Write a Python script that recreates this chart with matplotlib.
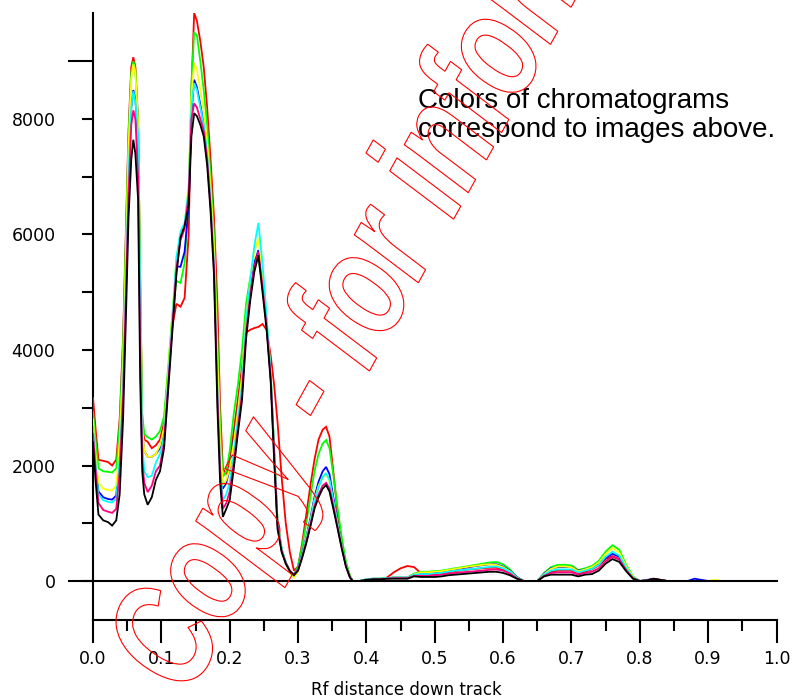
import numpy as np
import matplotlib
matplotlib.use("Agg")
import matplotlib.pyplot as plt
from matplotlib.textpath import TextPath
from matplotlib.patches import PathPatch
from matplotlib.font_manager import FontProperties
from matplotlib.transforms import Affine2D

# ---------------- data ----------------
rf = [0.000, 0.004, 0.008, 0.015, 0.022, 0.028, 0.034, 0.039, 0.044, 0.048,
      0.052, 0.056, 0.059, 0.062, 0.066, 0.069, 0.072, 0.075, 0.080, 0.086,
      0.092, 0.098, 0.104, 0.110, 0.116, 0.122, 0.128, 0.134, 0.140, 0.144,
      0.148, 0.152, 0.157, 0.162, 0.167, 0.172, 0.177, 0.182, 0.186, 0.190,
      0.195, 0.200, 0.206, 0.212, 0.218, 0.224, 0.230, 0.236, 0.242, 0.248,
      0.254, 0.260, 0.265, 0.270, 0.276, 0.282, 0.288, 0.294, 0.300, 0.306,
      0.312, 0.318, 0.324, 0.330, 0.336, 0.341, 0.346, 0.352, 0.358, 0.364,
      0.370, 0.376, 0.380,
      0.39, 0.40, 0.41, 0.42, 0.43, 0.44, 0.45, 0.46, 0.47, 0.48,
      0.49, 0.50, 0.51, 0.52, 0.53, 0.54, 0.55, 0.56, 0.57, 0.58,
      0.59, 0.60, 0.61, 0.62, 0.63, 0.64, 0.65, 0.66, 0.67, 0.68,
      0.69, 0.70, 0.71, 0.72, 0.73, 0.74, 0.75, 0.76, 0.77, 0.78,
      0.79, 0.80, 0.81, 0.82, 0.83, 0.84, 0.85, 0.86, 0.87, 0.88,
      0.89, 0.90, 0.91, 0.92]

red = [3170, 2600, 2100, 2080, 2060, 2000, 2100, 2800, 4200, 6000,
       7800, 8900, 9070, 8900, 7950, 5300, 2800, 2450, 2410, 2300,
       2350, 2450, 2750, 3600, 4400, 4800, 4750, 4900, 6000, 8500,
       9835, 9700, 9350, 8900, 8200, 7300, 6300, 4800, 3000, 1950,
       1850, 2100, 2600, 3150, 3700, 4300, 4350, 4380, 4400, 4450,
       4350, 3900, 3400, 2750, 1800, 1000, 500, 180, 250, 650,
       1150, 1650, 2100, 2450, 2620, 2670, 2500, 1850, 1150, 650,
       300, 80, 0,
       0, 20, 30, 30, 60, 150, 220, 260, 240, 130,
       110, 120, 130, 150, 170, 185, 200, 210, 220, 230,
       230, 200, 140, 50, 0, 0, 0, 100, 160, 180,
       180, 180, 130, 160, 200, 270, 380, 430, 380, 200,
       50, 0, 10, 40, 20, 0, 0, 0, 0, 0,
       0, 0, 0, 0]

yellow = [2800, 2150, 1700, 1600, 1575, 1570, 1650, 2400, 3800, 5600,
          7500, 8700, 8950, 8800, 7900, 5200, 2700, 2250, 2150, 2150,
          2200, 2350, 2650, 3600, 4600, 5600, 5950, 6150, 6900, 8400,
          8970, 8850, 8500, 8150, 7600, 6800, 5800, 3900, 2400, 1650,
          1750, 1950, 2400, 2950, 3550, 4550, 5200, 5700, 5940, 5300,
          4550, 3600, 2300, 1000, 530, 300, 140, 60, 170, 440,
          730, 1040, 1400, 1650, 1800, 1850, 1730, 1350, 980, 600,
          280, 80, 0,
          0, 30, 40, 40, 50, 60, 60, 60, 120, 150,
          150, 160, 170, 190, 210, 230, 250, 265, 280, 290,
          280, 240, 170, 60, 0, 0, 0, 120, 210, 250,
          250, 240, 170, 200, 240, 320, 470, 570, 490, 260,
          70, 0, 10, 20, 10, 0, 0, 0, 0, 0,
          0, 0, 20, 0]

green = [2930, 2400, 1950, 1900, 1890, 1880, 1950, 2700, 4100, 5900,
         7700, 8800, 9000, 8850, 7900, 5300, 2900, 2550, 2490, 2450,
         2500, 2600, 2850, 3700, 4600, 5200, 5160, 5500, 6600, 8600,
         9500, 9450, 9000, 8500, 7900, 7000, 6000, 4200, 2700, 1800,
         1900, 2250, 2900, 3400, 4000, 4800, 5250, 5550, 5600, 5100,
         4450, 3550, 2300, 1050, 560, 320, 170, 110, 260, 600,
         1000, 1450, 1900, 2200, 2380, 2440, 2300, 1800, 1250, 750,
         340, 90, 0,
         0, 30, 40, 40, 50, 60, 60, 60, 130, 160,
         160, 170, 180, 200, 220, 240, 260, 280, 300, 320,
         330, 290, 200, 70, 0, 0, 0, 140, 240, 280,
         280, 270, 190, 220, 260, 350, 510, 620, 540, 280,
         80, 0, 10, 30, 20, 0, 0, 0, 0, 0,
         0, 0, 0, 0]

cyan = [2670, 2000, 1500, 1400, 1370, 1360, 1420, 2100, 3400, 5100,
        7000, 8200, 8480, 8300, 7750, 5000, 2400, 1900, 1800, 1820,
        2050, 2200, 2500, 3500, 4500, 5600, 6050, 6200, 6800, 8200,
        8620, 8500, 8200, 7900, 7400, 6600, 5500, 3400, 2000, 1400,
        1500, 1700, 2200, 2800, 3400, 4500, 5200, 5800, 6200, 5500,
        4600, 3600, 2300, 1000, 540, 320, 170, 100, 200, 450,
        720, 1020, 1380, 1620, 1800, 1870, 1750, 1350, 960, 590,
        270, 70, 0,
        0, 30, 40, 40, 50, 60, 60, 60, 110, 120,
        120, 130, 140, 160, 180, 190, 200, 215, 230, 245,
        250, 220, 160, 60, 0, 0, 0, 110, 180, 200,
        200, 200, 150, 180, 210, 280, 420, 510, 440, 230,
        60, 0, 10, 20, 10, 0, 0, 0, 0, 0,
        0, 0, 0, 0]

blue = [2650, 2000, 1550, 1450, 1420, 1410, 1480, 2200, 3500, 5200,
        7100, 8200, 8500, 8350, 7600, 4800, 2600, 2250, 2150, 2150,
        2200, 2300, 2600, 3500, 4500, 5450, 5440, 5700, 6500, 8100,
        8680, 8550, 8250, 7900, 7400, 6600, 5500, 3500, 2200, 1600,
        1700, 1950, 2450, 2950, 3500, 4450, 5050, 5500, 5730, 5150,
        4450, 3550, 2250, 1000, 540, 320, 170, 110, 210, 470,
        760, 1080, 1450, 1720, 1900, 1975, 1850, 1420, 1000, 610,
        280, 70, 0,
        0, 30, 40, 40, 50, 60, 60, 60, 120, 140,
        140, 150, 160, 180, 200, 220, 240, 260, 275, 290,
        290, 250, 180, 70, 0, 0, 0, 130, 220, 240,
        240, 240, 180, 200, 230, 290, 400, 470, 420, 220,
        60, 0, 20, 30, 20, 0, 0, 0, 0, 40,
        20, 0, 0, 0]

magenta = [2550, 1900, 1350, 1230, 1200, 1180, 1250, 1900, 3200, 4900,
           6700, 7900, 8150, 8000, 7000, 4000, 2100, 1700, 1540, 1650,
           1900, 2000, 2400, 3400, 4400, 5400, 5900, 6100, 6700, 8000,
           8270, 8200, 8000, 7800, 7300, 6500, 5400, 3200, 1900, 1250,
           1350, 1550, 2050, 2650, 3250, 4300, 4950, 5450, 5700, 5100,
           4400, 3500, 2200, 950, 520, 310, 180, 110, 190, 420,
           680, 970, 1290, 1500, 1650, 1700, 1600, 1270, 920, 570,
           260, 60, 0,
           0, 20, 30, 30, 40, 50, 50, 50, 90, 90,
           90, 100, 110, 130, 140, 150, 160, 170, 180, 195,
           200, 180, 130, 50, 0, 0, 0, 90, 140, 150,
           150, 150, 110, 140, 160, 220, 340, 420, 370, 190,
           50, 0, 10, 30, 20, 0, 0, 0, 0, 0,
           0, 0, 0, 0]

black = [2400, 1700, 1150, 1050, 1020, 960, 1050, 1500, 2800, 4500,
         6300, 7300, 7640, 7400, 6600, 3500, 1900, 1500, 1320, 1450,
         1750, 1900, 2300, 3300, 4300, 5300, 5950, 6150, 6500, 7700,
         8100, 8050, 7900, 7700, 7200, 6400, 5300, 3000, 1700, 1110,
         1250, 1400, 1950, 2560, 3130, 4200, 4850, 5350, 5640, 5000,
         4350, 3450, 2100, 900, 500, 300, 170, 100, 180, 400,
         650, 940, 1250, 1450, 1600, 1660, 1550, 1230, 900, 560,
         250, 60, 0,
         0, 20, 30, 30, 40, 40, 40, 40, 80, 70,
         70, 70, 80, 100, 110, 120, 130, 140, 150, 160,
         160, 140, 100, 40, 0, 0, 0, 80, 110, 110,
         110, 110, 80, 110, 120, 180, 300, 380, 330, 170,
         40, 0, 10, 40, 20, 0, 0, 0, 0, 0,
         0, 0, 0, 0]

series = [("#ff0000", red), ("#00ff00", green), ("#0000ff", blue),
          ("#ffff00", yellow), ("#00ffff", cyan), ("#ff0080", magenta),
          ("#000000", black)]

x_ticks = [0.0, 0.1, 0.2, 0.3, 0.4, 0.5, 0.6, 0.7, 0.8, 0.9, 1.0]
x_minor = [0.05, 0.15, 0.25, 0.35, 0.45, 0.55, 0.65, 0.75, 0.85, 0.95]
y_ticks = [0, 2000, 4000, 6000, 8000]
y_minor = [1000, 3000, 5000, 7000]

# ---------------- figure ----------------
W, H = 794, 699
fig = plt.figure(figsize=(W / 100, H / 100), dpi=100)
fig.patch.set_facecolor("white")
ax = fig.add_axes([93 / W, (H - 620) / H, (776.5 - 93) / W, (620 - 13) / H])
ax.set_xlim(0, 1.0)
ax.set_ylim(-675, 9835)

for col, vals in series:
    ax.plot(rf, vals, color=col, lw=1.3, solid_joinstyle="miter", zorder=3)

for s in ("top", "right"):
    ax.spines[s].set_visible(False)
for s in ("left", "bottom"):
    ax.spines[s].set_linewidth(1.5)

ax.set_xticks(x_ticks)
ax.set_xticklabels([f"{v:.1f}" for v in x_ticks])
ax.set_xticks(x_minor, minor=True)
ax.set_yticks(y_ticks)
ax.set_yticklabels([str(v) for v in y_ticks])
ax.set_yticks(y_minor, minor=True)
ax.tick_params(axis="x", which="major", length=16.5, width=1.5, pad=5,
               labelsize=12.5, direction="out")
ax.tick_params(axis="x", which="minor", length=8, width=1.5, direction="out")
ax.tick_params(axis="y", which="both", length=8, width=1.5, pad=19,
               labelsize=12.5, direction="out")

# zero line and long top tick
ytr = ax.get_yaxis_transform()
ax.plot([-24 / 683.5, 1.0], [0, 0], transform=ytr, color="black", lw=1.5,
        clip_on=False, zorder=6)
ax.plot([-24 / 683.5, 0], [9000, 9000], transform=ytr, color="black", lw=1.5,
        clip_on=False, zorder=6)

fig.text(406 / W, 1 - 690 / H, "Rf distance down track", ha="center",
         va="center", fontsize=12)

fig.text(418 / W, 1 - 108 / H, "Colors of chromatograms", ha="left",
         va="baseline", fontsize=20, family="Liberation Sans")
fig.text(418 / W, 1 - 137 / H, "correspond to images above.", ha="left",
         va="baseline", fontsize=20, family="Liberation Sans")

# outlined watermark (condensed bold italic, rotated), anchored on the dash
fp = FontProperties(family="Liberation Sans", weight="bold", style="italic")
wm_text = "Copy - for information"
tp = TextPath((0, 0), wm_text, size=150, prop=fp)
dash_box = TextPath((0, 0), "-", size=150, prop=fp).get_extents()
pre_box = TextPath((0, 0), "Copy -", size=150, prop=fp).get_extents()
dash_c = (pre_box.x1 - dash_box.width / 2, (dash_box.y0 + dash_box.y1) / 2)
base = Affine2D().scale(0.727, 1.0).rotate_deg(61)
px, py = base.transform_point(dash_c)
tr = base + Affine2D().translate(310 - px, (H - 398) - py)
patch = PathPatch(tp, facecolor="none", edgecolor="#ff0000", lw=0.8,
                  transform=tr, zorder=10)
fig.add_artist(patch)

fig.savefig("out.png", dpi=100)
